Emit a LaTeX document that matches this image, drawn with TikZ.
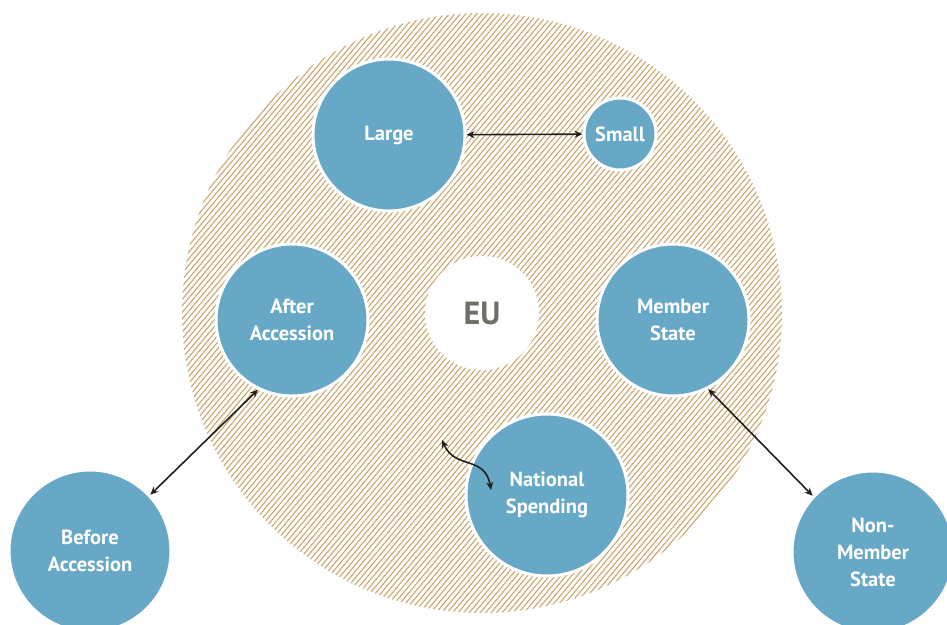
\documentclass[tikz,border=0pt]{standalone}
\usepackage{fontspec}
\setmainfont{PT Sans}
\usetikzlibrary{arrows.meta}
\definecolor{bubbleblue}{HTML}{67A8C7}
\definecolor{hatchtan}{HTML}{CCA66C}
\definecolor{eugrey}{HTML}{6F6F68}
\definecolor{arrowdark}{HTML}{231F20}

\tikzset{
  bubble/.style={circle, fill=bubbleblue, draw=white, line width=3pt, inner sep=0pt, text=white, font=\fontsize{20.5}{27}\selectfont\bfseries, align=center},
  link/.style={{Stealth[length=8pt,width=7pt]}-{Stealth[length=8pt,width=7pt]}, line width=1.6pt, draw=arrowdark}
}

\begin{document}
\begin{tikzpicture}[x=1pt,y=-1pt]
\useasboundingbox (0,0) rectangle (947,624);
\begin{scope}
  \clip (482,313) circle (300);
  \foreach \i in {0,...,205}
    \draw[hatchtan, line width=1.1pt] (-340+\i*5.5,620) -- ++(512,-610);
\end{scope}

\node[circle, fill=white, minimum size=114pt, inner sep=0pt, text=eugrey, font=\fontsize{32}{32}\selectfont\bfseries] (eu) at (482,313) {EU};
\node[bubble, minimum size=152pt] (large) at (389,135) {Large};
\node[bubble, minimum size=72pt] (small) at (620,134) {Small};
\node[bubble, minimum size=152pt] (after) at (292,320) {After\\Accession};
\node[bubble, minimum size=152pt] (member) at (673,320) {Member\\State};
\node[bubble, minimum size=162pt] (spending) at (547,495) {National\\Spending};
\node[bubble, minimum size=162pt] (before) at (90,551) {Before\\Accession};
\node[bubble, minimum size=162pt] (nonmember) at (873,552) {Non-\\Member\\State};

\coordinate (spendfrom) at (442,440);
\coordinate (spendto) at (491,490);

\draw[link] (large) -- (small);
\draw[link] (after.244) -- (before.43);
\draw[link] (member.-63) -- (nonmember.137);
\draw[link] (spendfrom) .. controls (455,470) and (485,455) .. (spendto);
\end{tikzpicture}
\end{document}
